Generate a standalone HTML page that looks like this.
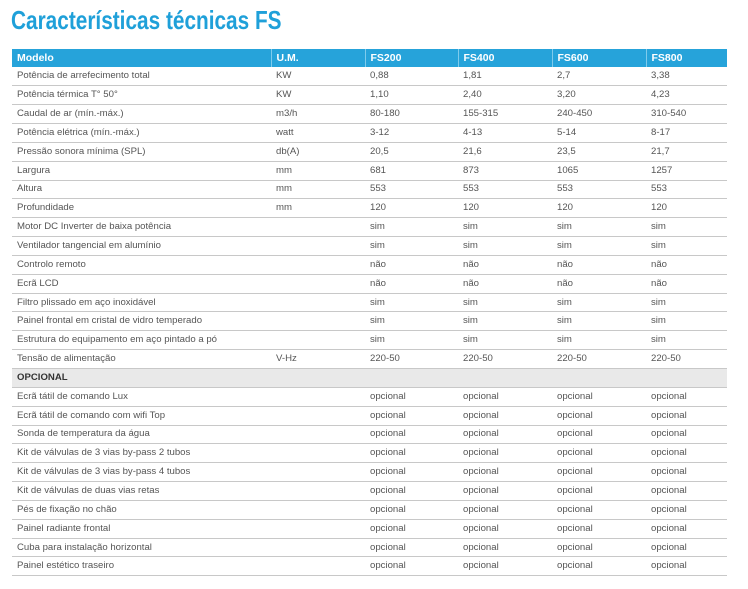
<!DOCTYPE html>
<html><head><meta charset="utf-8"><style>
body{margin:0;width:748px;height:589px;background:#fff;font-family:"Liberation Sans",sans-serif;overflow:hidden;position:relative}
h1{position:absolute;left:11px;top:5px;margin:0;font-size:26px;font-weight:bold;color:#1fa0d9;transform:scaleX(0.8);transform-origin:0 0;white-space:nowrap}
table{position:absolute;left:12px;top:49px;width:715px;border-collapse:collapse;table-layout:fixed}
td{height:18.85px;line-height:12px;padding:0 0 0 5px;font-size:9.6px;color:#555;border-bottom:1px solid #c8c8c8;white-space:nowrap;overflow:hidden;box-sizing:border-box}
tr.h td{height:18px;background:#26a3da;color:#fff;font-weight:bold;font-size:10.5px;border-bottom:1px solid #fff;border-left:1px solid #7fcbec}
tr.h td:first-child{border-left:none}
tr.o td{background:#e9e9e9;font-weight:bold;color:#333}
</style></head><body>
<h1>Características técnicas FS</h1>
<table>
<colgroup><col style="width:259px"><col style="width:94px"><col style="width:93px"><col style="width:94px"><col style="width:94px"><col style="width:81px"></colgroup>
<tr class="h"><td>Modelo</td><td>U.M.</td><td>FS200</td><td>FS400</td><td>FS600</td><td>FS800</td></tr>
<tr><td>Potência de arrefecimento total</td><td>KW</td><td>0,88</td><td>1,81</td><td>2,7</td><td>3,38</td></tr>
<tr><td>Potência térmica T° 50°</td><td>KW</td><td>1,10</td><td>2,40</td><td>3,20</td><td>4,23</td></tr>
<tr><td>Caudal de ar (mín.-máx.)</td><td>m3/h</td><td>80-180</td><td>155-315</td><td>240-450</td><td>310-540</td></tr>
<tr><td>Potência elétrica (mín.-máx.)</td><td>watt</td><td>3-12</td><td>4-13</td><td>5-14</td><td>8-17</td></tr>
<tr><td>Pressão sonora mínima (SPL)</td><td>db(A)</td><td>20,5</td><td>21,6</td><td>23,5</td><td>21,7</td></tr>
<tr><td>Largura</td><td>mm</td><td>681</td><td>873</td><td>1065</td><td>1257</td></tr>
<tr><td>Altura</td><td>mm</td><td>553</td><td>553</td><td>553</td><td>553</td></tr>
<tr><td>Profundidade</td><td>mm</td><td>120</td><td>120</td><td>120</td><td>120</td></tr>
<tr><td>Motor DC Inverter de baixa potência</td><td></td><td>sim</td><td>sim</td><td>sim</td><td>sim</td></tr>
<tr><td>Ventilador tangencial em alumínio</td><td></td><td>sim</td><td>sim</td><td>sim</td><td>sim</td></tr>
<tr><td>Controlo remoto</td><td></td><td>não</td><td>não</td><td>não</td><td>não</td></tr>
<tr><td>Ecrã LCD</td><td></td><td>não</td><td>não</td><td>não</td><td>não</td></tr>
<tr><td>Filtro plissado em aço inoxidável</td><td></td><td>sim</td><td>sim</td><td>sim</td><td>sim</td></tr>
<tr><td>Painel frontal em cristal de vidro temperado</td><td></td><td>sim</td><td>sim</td><td>sim</td><td>sim</td></tr>
<tr><td>Estrutura do equipamento em aço pintado a pó</td><td></td><td>sim</td><td>sim</td><td>sim</td><td>sim</td></tr>
<tr><td>Tensão de alimentação</td><td>V-Hz</td><td>220-50</td><td>220-50</td><td>220-50</td><td>220-50</td></tr>
<tr class="o"><td>OPCIONAL</td><td></td><td></td><td></td><td></td><td></td></tr>
<tr><td>Ecrã tátil de comando Lux</td><td></td><td>opcional</td><td>opcional</td><td>opcional</td><td>opcional</td></tr>
<tr><td>Ecrã tátil de comando com wifi Top</td><td></td><td>opcional</td><td>opcional</td><td>opcional</td><td>opcional</td></tr>
<tr><td>Sonda de temperatura da água</td><td></td><td>opcional</td><td>opcional</td><td>opcional</td><td>opcional</td></tr>
<tr><td>Kit de válvulas de 3 vias by-pass 2 tubos</td><td></td><td>opcional</td><td>opcional</td><td>opcional</td><td>opcional</td></tr>
<tr><td>Kit de válvulas de 3 vias by-pass 4 tubos</td><td></td><td>opcional</td><td>opcional</td><td>opcional</td><td>opcional</td></tr>
<tr><td>Kit de válvulas de duas vias retas</td><td></td><td>opcional</td><td>opcional</td><td>opcional</td><td>opcional</td></tr>
<tr><td>Pés de fixação no chão</td><td></td><td>opcional</td><td>opcional</td><td>opcional</td><td>opcional</td></tr>
<tr><td>Painel radiante frontal</td><td></td><td>opcional</td><td>opcional</td><td>opcional</td><td>opcional</td></tr>
<tr><td>Cuba para instalação horizontal</td><td></td><td>opcional</td><td>opcional</td><td>opcional</td><td>opcional</td></tr>
<tr><td>Painel estético traseiro</td><td></td><td>opcional</td><td>opcional</td><td>opcional</td><td>opcional</td></tr>
</table>
</body></html>
